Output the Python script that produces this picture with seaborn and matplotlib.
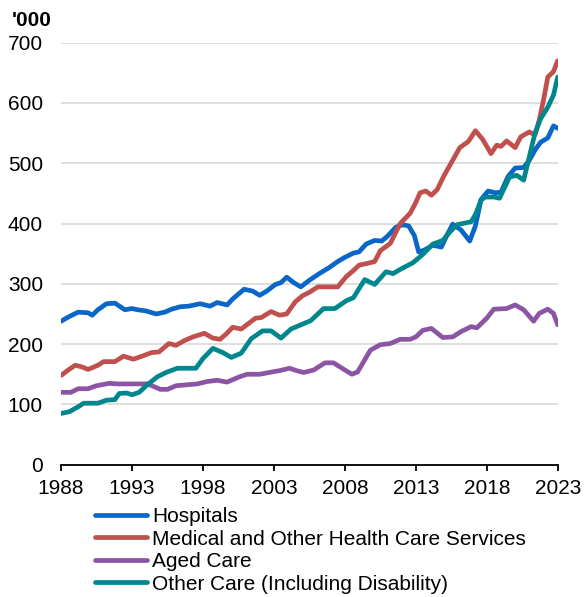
import matplotlib
matplotlib.use("Agg")
import matplotlib.pyplot as plt
import pandas as pd
import seaborn as sns

# Employment by health care sector, thousands
series_names = [
    "Hospitals",
    "Medical and Other Health Care Services",
    "Aged Care",
    "Other Care (Including Disability)",
]

hospitals_years = [
    1988.0, 1988.6, 1989.2, 1989.9, 1990.2, 1990.6, 1991.2, 1991.8, 1992.5, 1993.0,
    1993.4, 1994.0, 1994.7, 1995.3, 1995.8, 1996.4, 1997.0, 1997.4, 1997.8, 1998.5,
    1999.0, 1999.7, 2000.1, 2000.9, 2001.5, 2002.0, 2002.5, 2003.1, 2003.5, 2003.9,
    2004.4, 2004.9, 2005.5, 2006.2, 2006.9, 2007.5, 2008.0, 2008.6, 2009.0, 2009.5,
    2010.1, 2010.6, 2011.0, 2011.6, 2012.1, 2012.5, 2012.9, 2013.2, 2013.6, 2014.2,
    2014.8, 2015.2, 2015.6, 2016.2, 2016.8, 2017.2, 2017.6, 2018.1, 2018.6, 2019.0,
    2019.5, 2020.0, 2020.6, 2021.0, 2021.4, 2021.8, 2022.3, 2022.7, 2023.0,
]
hospitals_values = [
    238, 246, 253, 252, 248, 257, 267, 268, 257, 259,
    257, 255, 250, 253, 258, 262, 263, 265, 267, 263,
    269, 265, 275, 291, 288, 281, 288, 299, 302, 311,
    302, 295, 306, 317, 327, 337, 344, 351, 353, 366,
    372, 371, 379, 394, 398, 396, 380, 353, 356, 364,
    361, 381, 399, 389, 371, 396, 440, 454, 451, 452,
    478, 492, 493, 505, 522, 535, 542, 562, 558,
]

medical_years = [
    1988.0, 1988.5, 1989.0, 1989.5, 1989.9, 1990.6, 1991.0, 1991.8, 1992.4, 1993.1,
    1993.7, 1994.4, 1994.9, 1995.6, 1996.1, 1996.7, 1997.3, 1998.1, 1998.7, 1999.2,
    1999.6, 2000.1, 2000.7, 2001.2, 2001.7, 2002.1, 2002.8, 2003.4, 2003.9, 2004.5,
    2005.0, 2005.5, 2006.1, 2006.8, 2007.5, 2008.1, 2008.6, 2009.0, 2009.6, 2010.1,
    2010.5, 2011.2, 2011.9, 2012.6, 2013.0, 2013.3, 2013.7, 2014.1, 2014.5, 2015.0,
    2015.6, 2016.1, 2016.7, 2017.2, 2017.7, 2018.3, 2018.7, 2019.0, 2019.4, 2020.0,
    2020.4, 2021.0, 2021.4, 2021.7, 2022.0, 2022.3, 2022.7, 2023.0,
]
medical_values = [
    148, 157, 165, 162, 158, 165, 171, 171, 180, 175,
    180, 186, 187, 201, 198, 206, 212, 218, 210, 208,
    216, 228, 225, 234, 243, 244, 254, 248, 250, 270,
    280, 286, 295, 295, 295, 312, 322, 331, 334, 337,
    355, 367, 400, 417, 435, 451, 454, 447, 456, 480,
    505, 526, 536, 554, 540, 516, 530, 528, 537, 526,
    544, 552, 547, 572, 605, 643, 652, 670,
]

aged_years = [
    1988.0, 1988.7, 1989.2, 1989.9, 1990.5, 1991.4, 1992.0, 1994.1, 1994.6, 1995.0,
    1995.5, 1996.1, 1997.6, 1998.3, 1999.0, 1999.7, 2000.6, 2001.1, 2002.0, 2002.9,
    2003.4, 2004.1, 2004.6, 2005.1, 2005.8, 2006.6, 2007.2, 2007.8, 2008.5, 2008.9,
    2009.3, 2009.8, 2010.5, 2011.2, 2011.9, 2012.6, 2013.0, 2013.5, 2014.1, 2014.9,
    2015.6, 2016.2, 2016.9, 2017.3, 2018.0, 2018.5, 2019.4, 2020.0, 2020.6, 2021.3,
    2021.7, 2022.3, 2022.7, 2023.0,
]
aged_values = [
    120, 120, 126, 126, 131, 135, 134, 134, 129, 125,
    125, 131, 134, 138, 140, 137, 146, 150, 150, 154,
    156, 160, 156, 153, 157, 169, 169, 160, 150, 154,
    170, 190, 199, 201, 208, 208, 212, 223, 226, 211,
    212, 221, 229, 227, 243, 258, 259, 265, 257, 238,
    251, 258, 251, 232,
]

other_years = [
    1988.0, 1988.6, 1989.2, 1989.6, 1990.6, 1991.2, 1991.8, 1992.1, 1992.6, 1993.0,
    1993.5, 1994.1, 1994.8, 1995.4, 1996.2, 1997.5, 1998.0, 1998.7, 1999.4, 2000.0,
    2000.7, 2001.4, 2002.2, 2002.8, 2003.5, 2004.2, 2004.9, 2005.6, 2006.5, 2007.3,
    2008.1, 2008.6, 2009.4, 2010.1, 2010.9, 2011.4, 2011.9, 2012.8, 2013.5, 2014.2,
    2014.9, 2015.4, 2015.9, 2016.9, 2017.2, 2017.6, 2017.9, 2018.5, 2018.9, 2019.6,
    2020.1, 2020.6, 2021.0, 2021.4, 2021.8, 2022.3, 2022.7, 2023.0,
]
other_values = [
    85, 88, 96, 102, 102, 107, 108, 118, 119, 116,
    120, 133, 146, 153, 160, 160, 176, 193, 186, 178,
    185, 209, 222, 222, 210, 225, 232, 239, 259, 259,
    272, 277, 307, 299, 320, 317, 324, 335, 349, 366,
    372, 386, 398, 403, 415, 439, 444, 444, 442, 477,
    480, 472, 511, 550, 574, 593, 613, 643,
]

line_colors = ["#0A66C8", "#C0504D", "#8B55A3", "#00878D"]
year_ticks = [1988, 1993, 1998, 2003, 2008, 2013, 2018, 2023]
value_ticks = [0, 100, 200, 300, 400, 500, 600, 700]

frames = []
for name, yrs, vals in zip(
    series_names,
    [hospitals_years, medical_years, aged_years, other_years],
    [hospitals_values, medical_values, aged_values, other_values],
):
    frames.append(pd.DataFrame({"year": yrs, "employed": vals, "sector": name}))
data = pd.concat(frames, ignore_index=True)

sns.set_theme(style="white")
plt.rcParams["font.family"] = ["Liberation Sans", "DejaVu Sans"]
FS = 15

fig = plt.figure(figsize=(5.84, 5.97), dpi=100)
ax = fig.add_axes([0.1045, 0.2216, 0.8505, 0.7069])

sns.lineplot(
    data=data, x="year", y="employed", hue="sector",
    hue_order=series_names, palette=line_colors,
    estimator=None, sort=False, linewidth=3.4, ax=ax, legend=False,
)
for ln in ax.get_lines():
    ln.set_solid_joinstyle("round")
    ln.set_solid_capstyle("round")

ax.set_xlim(1988, 2023)
ax.set_ylim(0, 700)
ax.set_xticks(year_ticks)
ax.set_xticklabels([str(y) for y in year_ticks])
ax.set_yticks(value_ticks)
ax.set_xlabel("")
ax.set_ylabel("")

ax.yaxis.grid(True, color="#D9D9D9", linewidth=1.2)
ax.set_axisbelow(True)
for side in ["left", "right", "top"]:
    ax.spines[side].set_visible(False)
ax.spines["bottom"].set_color("black")
ax.spines["bottom"].set_linewidth(1.3)

ax.tick_params(axis="x", direction="out", length=4, width=1.3, color="black",
               pad=6, labelsize=FS, labelcolor="black", bottom=True)
ax.tick_params(axis="y", length=0, pad=13, labelsize=FS, labelcolor="black")

fig.text(12 / 584, 1 - 26 / 597, "'000", fontsize=FS, fontweight="bold",
         ha="left", va="baseline", color="black")

handles = ax.get_lines()[:4]
leg = fig.legend(
    handles, series_names, loc="upper left",
    bbox_to_anchor=(95 / 584, 1 - 507 / 597), bbox_transform=fig.transFigure,
    frameon=False, fontsize=FS, handlelength=2.5, handletextpad=0.25,
    labelspacing=0.17, borderpad=0, borderaxespad=0,
)
for t in leg.get_texts():
    t.set_color("black")

fig.savefig("out.png", dpi=100)
